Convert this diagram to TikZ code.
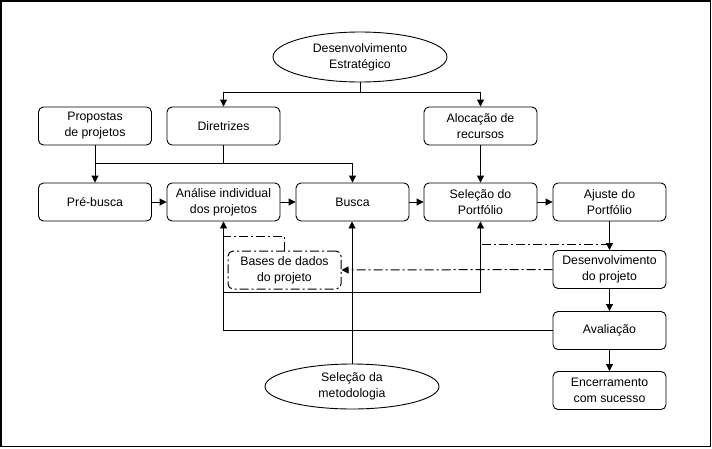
\documentclass[tikz,border=0pt]{standalone}
\usepackage{fontspec}
\setmainfont{Liberation Sans}
\usetikzlibrary{shapes.geometric,arrows.meta}
\begin{document}
\begin{tikzpicture}[x=1pt,y=-1pt,
  every node/.style={font=\fontsize{12.3}{16}\selectfont},
  pbox/.style={draw,rounded corners=5pt,line width=0.9pt,minimum width=113pt,minimum height=38pt,inner sep=1pt,align=center},
  oval/.style={draw,ellipse,line width=0.9pt,minimum width=174pt,inner sep=0pt,align=center},
  conn/.style={line width=0.9pt},
  arr/.style={conn,-{Triangle[width=7pt,length=7pt]}},
  dd/.style={line width=1pt,dash pattern=on 9pt off 3pt on 2pt off 3pt}]
\useasboundingbox (0,0) rectangle (712,448);
\draw[line width=1.6pt] (1,1) rectangle (710.5,446.5);
% nodes
\node[oval,minimum height=50pt] (DE) at (360,57) {Desenvolvimento\\Estratégico};
\node[pbox] (prop) at (95,126) {Propostas\\de projetos};
\node[pbox] (dir) at (223.5,126) {Diretrizes};
\node[pbox] (aloc) at (480.5,126) {Alocação de\\recursos};
\node[pbox] (pre) at (95,202) {Pré-busca};
\node[pbox] (ana) at (223.5,202) {Análise individual\\dos projetos};
\node[pbox] (busca) at (352.5,202) {Busca};
\node[pbox] (sel) at (480.5,202) {Seleção do\\Portfólio};
\node[pbox] (aju) at (609.5,202) {Ajuste do\\Portfólio};
\node[pbox] (dev) at (609.5,269.5) {Desenvolvimento\\do projeto};
\node[pbox] (aval) at (609.5,330.5) {Avaliação};
\node[pbox] (enc) at (609.5,390.5) {Encerramento\\com sucesso};
\node[pbox,dd] (bases) at (284.5,270) {Bases de dados\\do projeto};
\node[oval,minimum height=45pt] (SM) at (352,386.5) {Seleção da\\metodologia};
% top connectors
\coordinate (j1) at (360,92);
\draw[conn] (DE.south) -- (j1);
\draw[arr] (j1) -| (dir.north);
\draw[arr] (j1) -| (aloc.north);
\coordinate (j2) at (223.5,163);
\draw[conn] (dir.south) -- (j2);
\draw[arr] (j2) -| (prop.south |- pre.north);
\draw[conn] (prop.south) -- (prop.south |- j2);
\draw[arr] (j2) -| (busca.north);
\draw[arr] (aloc) -- (sel);
% row
\draw[arr] (pre) -- (ana);
\draw[arr] (ana) -- (busca);
\draw[arr] (busca) -- (sel);
\draw[arr] (sel) -- (aju);
% right column
\draw[arr] (aju) -- (dev);
\draw[arr] (dev) -- (aval);
\draw[arr] (aval) -- (enc);
% dash-dot
\coordinate (d1) at (609.5,244);
\draw[dd] (d1) -- (sel.south |- d1);
\draw[dd,-{Triangle[width=7pt,length=7pt]}] (dev.west) -- (bases.east);
\coordinate (d2) at (223.5,236);
\draw[dd] (bases.north) |- (d2);
% feedback
\coordinate (f1) at (ana.south |- aval.west);
\draw[arr] (aval.west) -- (f1) -- (ana.south);
\coordinate (f2) at (223.5,292);
\draw[arr] (f2) -| (sel.south);
% methodology
\draw[arr] (SM.north) -- (SM.north |- busca.south);
\end{tikzpicture}
\end{document}
